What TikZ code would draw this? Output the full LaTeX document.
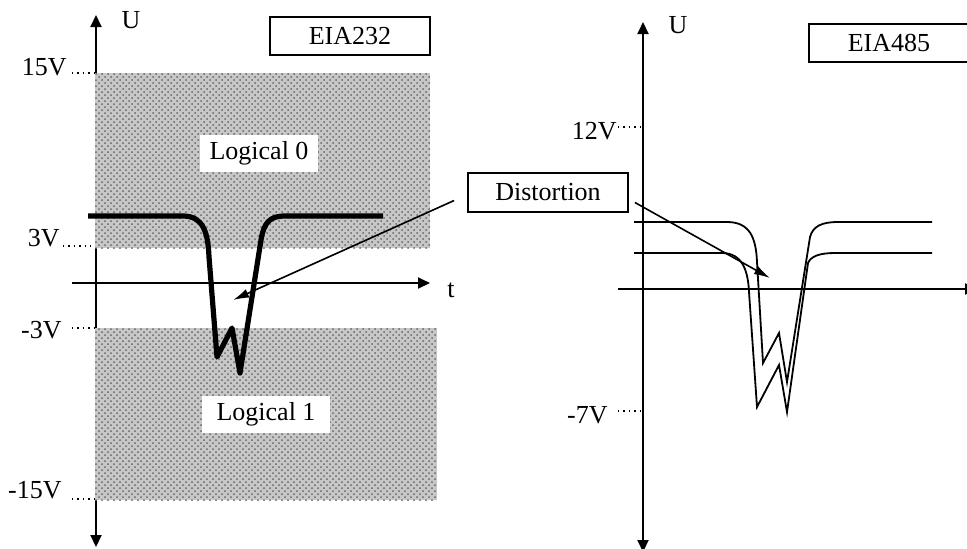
\documentclass[tikz,border=0pt]{standalone}
\usepackage{fontspec}
\setmainfont{Liberation Serif}
\usetikzlibrary{arrows.meta,patterns}
\begin{document}
\begin{tikzpicture}[x=0.5pt, y=-0.5pt, font=\fontsize{13}{15}\selectfont,
    >={Triangle[length=6pt,width=5.5pt]},
    axis/.style={line width=1pt},
    level/.style={dotted, line width=0.7pt},
    zone/.style={fill=black!22},
    zonedots/.style={pattern=crosshatch dots, pattern color=black!60},
    tag/.style={draw, line width=0.9pt, minimum width=80pt, minimum height=19pt, inner sep=0pt},
    zonename/.style={fill=white, inner sep=0pt, minimum height=18.5pt},
    volt/.style={anchor=east, inner sep=0pt},
    signal/.style={line width=2.6pt, line join=round},
    wave/.style={line width=0.9pt},
    distarrow/.style={line width=0.8pt, -{Latex[length=8pt,width=4.5pt]}}]
  \useasboundingbox (0,0) rectangle (967,548);

  % EIA232
  \draw[axis, <->] (96,547) -- (96,15);
  \draw[axis, ->] (72,283) -- (430,283);
  \node (u232) at (131,20) {U};
  \node[inner sep=0pt] (t232) at (451,290) {t};
  \fill[zone] (95,73) rectangle (430,248);
  \fill[zone] (95,328) rectangle (437,500);
  \fill[zonedots] (95,73) rectangle (430,248);
  \fill[zonedots] (95,328) rectangle (437,500);
  \node[volt] (v15) at (67,67) {15V};
  \node[volt] (v3) at (60,238) {3V};
  \node[volt] (vm3) at (62,330) {-3V};
  \node[volt] (vm15) at (62,490) {-15V};
  \draw[level] (72,73) -- (95,73);
  \draw[level] (63,246) -- (95,246);
  \draw[level] (72,328) -- (95,328);
  \draw[level] (72,499) -- (95,499);
  \node[zonename, minimum width=59pt] (logic0) at (259,153.5) {Logical 0};
  \node[zonename, minimum width=64pt] (logic1) at (266,414) {Logical 1};
  \node[tag] (eia232) at (350,36) {EIA232};
  \draw[signal] (88,216) -- (183,216) .. controls (203,216) and (208,232) .. (209,257)
    -- (217,357) -- (232,328) -- (240,373) -- (261,240)
    .. controls (264,222) and (270,216) .. (285,216) -- (383,216);

  % EIA485
  \draw[axis, <->] (643,552) -- (643,22);
  \draw[axis, ->] (618,289) -- (977,289);
  \node (u485) at (678,25) {U};
  \node[volt] (v12) at (617,131) {12V};
  \node[volt] (vm7) at (608,415) {-7V};
  \draw[level] (618,127) -- (641,127);
  \draw[level] (618,411) -- (641,411);
  \node[tag] (eia485) at (889,43) {EIA485};
  \draw[wave] (634,222) -- (727,222) .. controls (750,222) and (756,238) .. (757,262)
    -- (763,363) -- (779,333) -- (787,382) -- (810,237)
    .. controls (813,226) and (822,222) .. (838,222) -- (932,222);
  \draw[wave] (634,253) -- (722,253) .. controls (742,253) and (748,270) .. (749,292)
    -- (757,407) -- (779,365) -- (787,412) -- (808,263)
    .. controls (811,256) and (820,253) .. (835,253) -- (932,253);

  % distortion
  \node[tag, minimum height=19.5pt] (dist) at (548,192.5) {Distortion};
  \coordinate (hitL) at (233,300);
  \coordinate (hitR) at (770,278);
  \draw[distarrow] (dist.west) ++(-13,8) -- (hitL);
  \draw[distarrow] (dist.east) ++(6,10) -- (hitR);
\end{tikzpicture}
\end{document}
